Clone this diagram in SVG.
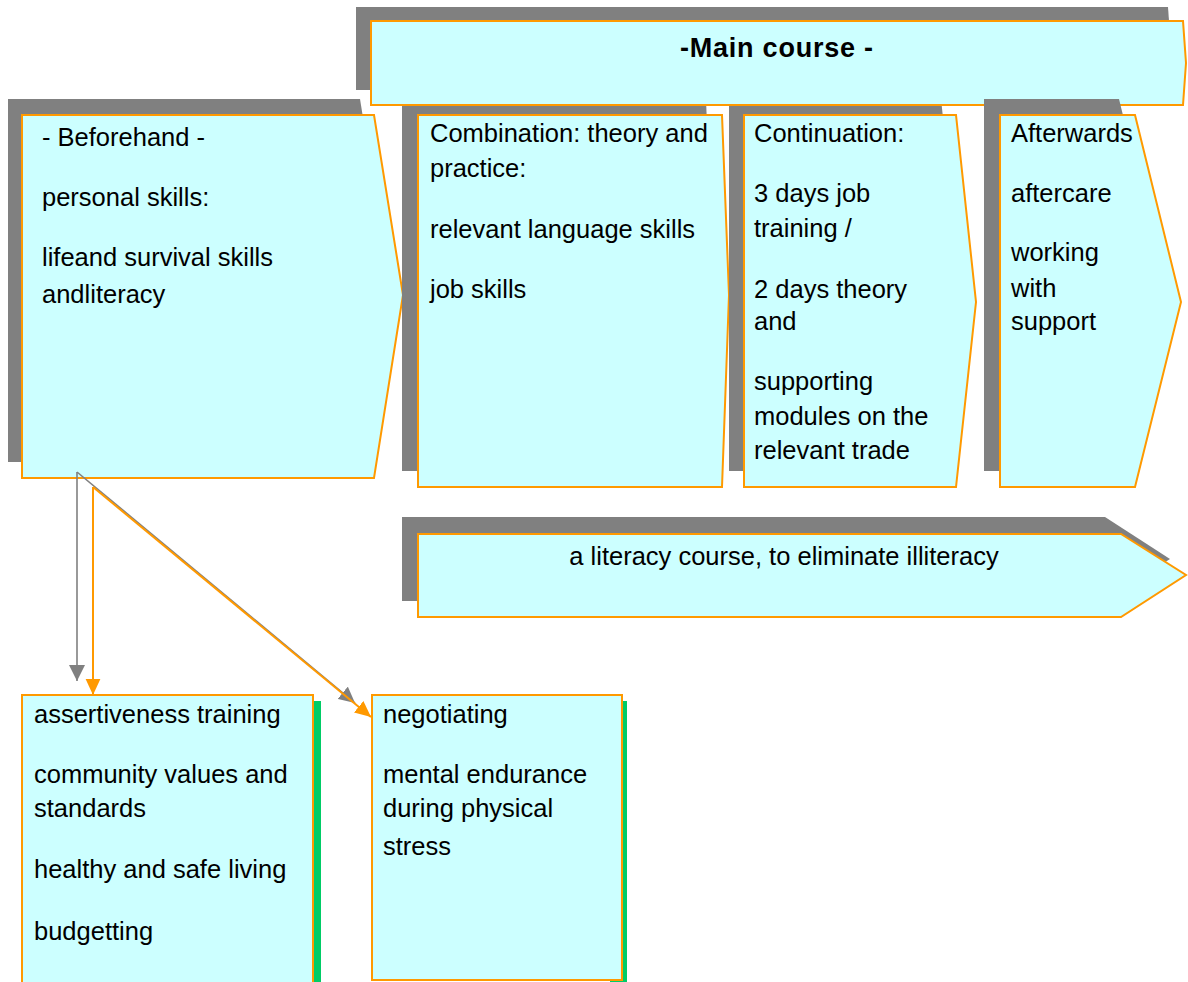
<svg xmlns="http://www.w3.org/2000/svg" width="1188" height="982" viewBox="0 0 1188 982">
<defs>
<style>
.sh{fill:#808080;stroke:none}
.bx{fill:#CCFFFF;stroke:#FF9900;stroke-width:2}
.gr{fill:#00CC66;stroke:none}
text{font-family:"Liberation Sans",Arial,sans-serif;font-size:25.5px;fill:#000}
.b{font-weight:bold;font-size:27px}
.c{text-anchor:middle}
.cg{stroke:#808080;stroke-width:1.6;fill:none}
.co{stroke:#FF9900;stroke-width:2;fill:none}
</style>
<marker id="ag" markerUnits="userSpaceOnUse" markerWidth="16" markerHeight="16" refX="14" refY="7" orient="auto" viewBox="0 0 14 14"><path d="M0,0 L14,7 L0,14 Z" fill="#808080"/></marker>
<marker id="ao" markerUnits="userSpaceOnUse" markerWidth="16" markerHeight="16" refX="13" refY="6" orient="auto" viewBox="0 0 13 12"><path d="M0,0 L13,6 L0,12 Z" fill="#FF9900"/></marker>
</defs>
<rect width="1188" height="982" fill="#FFFFFF"/>

<g id="beforehand">
<polygon class="sh" points="8,99 360,99 389,279 360,462 8,462"/>
<polygon class="bx" points="22,115 374,115 403,295 374,478 22,478"/>
<text x="42" y="146">- Beforehand -</text>
<text x="42" y="206">personal skills:</text>
<text x="42" y="266">lifeand survival skills</text>
<text x="42" y="303">andliteracy</text>
</g>

<g id="combination">
<polygon class="sh" points="402,99 706,99 713,279 706,471 402,471"/>
<polygon class="bx" points="418,115 722,115 729,295 722,487 418,487"/>
<text x="430" y="142">Combination: theory and</text>
<text x="430" y="177">practice:</text>
<text x="430" y="238">relevant language skills</text>
<text x="430" y="298">job skills</text>
</g>

<g id="continuation">
<polygon class="sh" points="729,99 941,99 961,286 941,471 729,471"/>
<polygon class="bx" points="744,115 956,115 976,302 956,487 744,487"/>
<text x="754" y="142">Continuation:</text>
<text x="754" y="202">3 days job</text>
<text x="754" y="237">training /</text>
<text x="754" y="298">2 days theory</text>
<text x="754" y="330">and</text>
<text x="754" y="390">supporting</text>
<text x="754" y="425">modules on the</text>
<text x="754" y="459">relevant trade</text>
</g>

<g id="main-course">
<polygon class="sh" points="356,7 1168,7 1171,49 1168,90 356,90"/>
<polygon class="bx" points="371,21 1183,21 1186,63 1183,105 371,105"/>
<text class="b" x="680" y="57" textLength="193" lengthAdjust="spacing">-Main course -</text>
</g>

<g id="afterwards">
<polygon class="sh" points="984,99 1119,99 1165,286 1119,471 984,471"/>
<polygon class="bx" points="1000,115 1135,115 1181,302 1135,487 1000,487"/>
<text x="1011" y="142">Afterwards</text>
<text x="1011" y="202">aftercare</text>
<text x="1011" y="261">working</text>
<text x="1011" y="297">with</text>
<text x="1011" y="330">support</text>
</g>

<g id="literacy">
<polygon class="sh" points="402,517 1105,517 1170,559 1105,601 402,601"/>
<polygon class="bx" points="418,534 1121,534 1186,575 1121,617 418,617"/>
<text class="c" x="784" y="565">a literacy course, to eliminate illiteracy</text>
</g>

<g id="assertiveness">
<rect class="gr" x="300" y="701" width="21" height="290"/>
<rect class="bx" x="22" y="695" width="291" height="300"/>
<text x="34" y="723">assertiveness training</text>
<text x="34" y="783">community values and</text>
<text x="34" y="817">standards</text>
<text x="34" y="878">healthy and safe living</text>
<text x="34" y="940">budgetting</text>
</g>

<g id="negotiating">
<rect class="gr" x="610" y="701" width="17" height="285"/>
<rect class="bx" x="372" y="695" width="250" height="285"/>
<text x="383" y="723">negotiating</text>
<text x="383" y="783">mental endurance</text>
<text x="383" y="817">during physical</text>
<text x="383" y="855">stress</text>
</g>

<g id="connectors">
<line class="cg" x1="77" y1="472" x2="77" y2="681" marker-end="url(#ag)"/>
<line class="cg" x1="77" y1="472" x2="355" y2="703" marker-end="url(#ag)"/>
<line class="co" x1="93" y1="487" x2="93" y2="695" marker-end="url(#ao)"/>
<line class="co" x1="93" y1="487" x2="371" y2="717" marker-end="url(#ao)"/>
</g>
</svg>
